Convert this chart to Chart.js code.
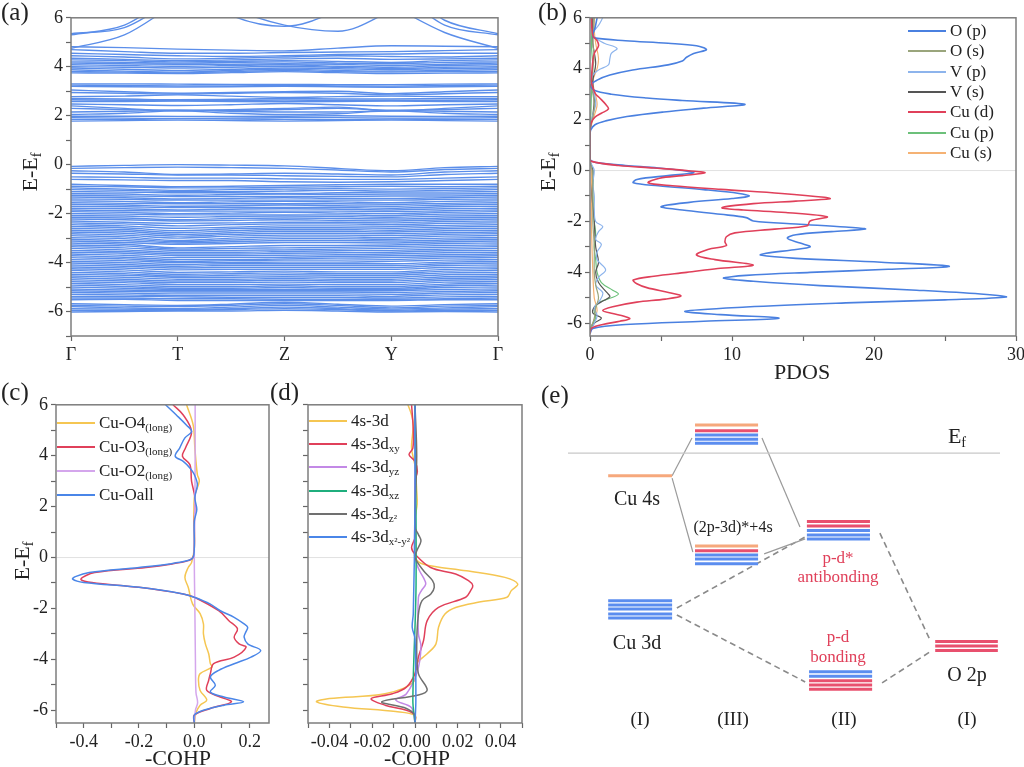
<!DOCTYPE html>
<html>
<head>
<meta charset="utf-8">
<script src="https://cdn.jsdelivr.net/npm/chart.js"></script>
<style>
  body { margin: 0; width: 1024px; height: 767px; overflow: hidden; background: #fff; position: relative;
         font-family: 'Liberation Serif', 'Times New Roman', serif; color: #222; }
  .box { position: absolute; }
  .lbl { position: absolute; white-space: nowrap; transform: translate(-50%, -50%); }
  .panel { position: absolute; font-size: 25px; white-space: nowrap; }
  .ytitle { position: absolute; white-space: nowrap; font-size: 22px; transform: translate(-50%, -50%) rotate(-90deg); }
  .xtitle { position: absolute; white-space: nowrap; font-size: 22px; transform: translate(-50%, -50%); }
  .legrow { position: absolute; display: flex; align-items: center; height: 22px; white-space: nowrap; font-size: 17px; }
  .legrow .sw { display: inline-block; width: 38px; height: 2px; margin-right: 4px; }
  sub { font-size: 0.65em; vertical-align: -0.3em; line-height: 0; }
  .red { color: #e0405a; }
</style>
</head>
<body>

<div class="box" style="left:21px; top:4px;"><canvas id="chartA" width="491" height="362"></canvas></div>
<div class="box" style="left:540px; top:4px;"><canvas id="chartB" width="488" height="362"></canvas></div>
<div class="box" style="left:6px; top:391px;"><canvas id="chartC" width="277" height="362"></canvas></div>
<div class="box" style="left:288px; top:391px;"><canvas id="chartD" width="248" height="362"></canvas></div>
<div class="box" style="left:568px; top:400px;"><canvas id="chartE" width="432" height="320"></canvas></div>

<!-- panel letters and axis titles -->
<div class="panel" style="left:1px; top:-2px;">(a)</div>
<div class="panel" style="left:538px; top:-2px;">(b)</div>
<div class="panel" style="left:1px; top:378px;">(c)</div>
<div class="panel" style="left:270px; top:378px;">(d)</div>
<div class="panel" style="left:541px; top:381px;">(e)</div>

<div class="ytitle" style="left:30px; top:172px;">E-E<sub>f</sub></div>
<div class="ytitle" style="left:548px; top:172px;">E-E<sub>f</sub></div>
<div class="ytitle" style="left:22px; top:561px;">E-E<sub>f</sub></div>
<div class="xtitle" style="left:802px; top:372px;">PDOS</div>
<div class="xtitle" style="left:178px; top:758px;">-COHP</div>
<div class="xtitle" style="left:417px; top:758px;">-COHP</div>

<!-- panel (e) texts -->
<div class="lbl" style="left:957px; top:436px; font-size:22px;">E<sub>f</sub></div>
<div class="lbl" style="left:637px; top:498px; font-size:20px;">Cu 4s</div>
<div class="lbl" style="left:733px; top:527px; font-size:16px;">(2p-3d)*+4s</div>
<div class="lbl" style="left:637px; top:642px; font-size:20px;">Cu 3d</div>
<div class="lbl red" style="left:838px; top:558px; font-size:17px;">p-d*</div>
<div class="lbl red" style="left:838px; top:577px; font-size:17px;">antibonding</div>
<div class="lbl red" style="left:838px; top:637px; font-size:17px;">p-d</div>
<div class="lbl red" style="left:838px; top:657px; font-size:17px;">bonding</div>
<div class="lbl" style="left:967px; top:674px; font-size:20px;">O 2p</div>
<div class="lbl" style="left:640px; top:719px; font-size:19px;">(I)</div>
<div class="lbl" style="left:733px; top:719px; font-size:19px;">(III)</div>
<div class="lbl" style="left:844px; top:719px; font-size:19px;">(II)</div>
<div class="lbl" style="left:967px; top:719px; font-size:19px;">(I)</div>

<script>
// ---------- band structure (a): energies at k = 0, 0.5, ... 4 ----------
const kLabels = ['Γ', 'T', 'Z', 'Y', 'Γ'];
const kPath = [0, 0.5, 1, 1.5, 2, 2.5, 3, 3.5, 4];

const upperBands = [
  [5.35, 5.6, 6.8, 7.5, 7.5, 7.5, 7.5, 5.9, 5.35],
  [4.75, 5.3, 6.6, 7.5, 7.5, 7.5, 6.5, 5.4, 4.75],
  [7.5, 7.5, 7.5, 6.1, 5.65, 6.3, 7.5, 7.5, 7.5],
  [7.5, 7.5, 7.5, 6.4, 5.7, 5.45, 6.3, 7.5, 7.5],
  [5.3, 5.7, 7.0, 7.5, 7.5, 7.5, 7.2, 5.7, 5.3]
];

const conductionBands = [
  [4.82, 4.78, 4.72, 4.68, 4.65, 4.76, 4.86, 4.84, 4.82],
  [4.70, 4.62, 4.55, 4.55, 4.58, 4.60, 4.62, 4.66, 4.70],
  [4.55, 4.50, 4.45, 4.42, 4.45, 4.50, 4.52, 4.55, 4.55],
  [4.45, 4.40, 4.32, 4.35, 4.40, 4.45, 4.42, 4.40, 4.45],
  [4.35, 4.30, 4.25, 4.28, 4.32, 4.35, 4.30, 4.32, 4.35],
  [4.28, 4.25, 4.20, 4.22, 4.25, 4.22, 4.18, 4.25, 4.28],
  [4.20, 4.18, 4.15, 4.18, 4.20, 4.15, 4.12, 4.18, 4.20],
  [4.15, 4.12, 4.10, 4.10, 4.12, 4.10, 4.05, 4.10, 4.15],
  [4.08, 4.05, 4.02, 4.05, 4.08, 4.02, 3.98, 4.05, 4.08],
  [4.00, 3.98, 3.95, 3.98, 4.02, 3.98, 3.92, 3.98, 4.00],
  [3.95, 3.90, 3.85, 3.90, 3.95, 3.92, 3.88, 3.92, 3.95],
  [3.88, 3.82, 3.78, 3.85, 3.90, 3.85, 3.82, 3.85, 3.88],
  [3.80, 3.78, 3.75, 3.80, 3.85, 3.80, 3.78, 3.80, 3.80],
  [3.75, 3.74, 3.72, 3.76, 3.80, 3.76, 3.72, 3.74, 3.75],
  [3.30, 3.30, 3.29, 3.28, 3.28, 3.27, 3.27, 3.29, 3.30],
  [3.25, 3.24, 3.22, 3.22, 3.23, 3.22, 3.21, 3.23, 3.25],
  [3.20, 3.18, 3.17, 3.18, 3.20, 3.18, 3.16, 3.18, 3.20],
  [3.05, 2.98, 2.92, 2.95, 2.98, 3.00, 2.90, 2.98, 3.05],
  [2.95, 2.92, 2.88, 2.92, 2.95, 2.92, 2.85, 2.90, 2.95],
  [2.78, 2.80, 2.85, 2.80, 2.75, 2.78, 2.80, 2.78, 2.78],
  [2.70, 2.68, 2.65, 2.67, 2.70, 2.68, 2.68, 2.70, 2.70],
  [2.65, 2.63, 2.62, 2.62, 2.64, 2.62, 2.62, 2.63, 2.65],
  [2.58, 2.58, 2.60, 2.58, 2.57, 2.58, 2.60, 2.58, 2.58],
  [2.48, 2.45, 2.42, 2.45, 2.50, 2.45, 2.40, 2.45, 2.48],
  [2.40, 2.30, 2.20, 2.25, 2.30, 2.35, 2.20, 2.30, 2.40],
  [2.30, 2.25, 2.22, 2.22, 2.25, 2.30, 2.22, 2.25, 2.30],
  [2.15, 2.18, 2.22, 2.18, 2.15, 2.15, 2.20, 2.18, 2.15],
  [2.05, 2.10, 2.20, 2.10, 2.05, 2.08, 2.20, 2.10, 2.05],
  [1.98, 1.98, 1.97, 1.97, 1.98, 2.00, 1.98, 1.97, 1.98],
  [1.92, 1.90, 1.88, 1.90, 1.92, 1.92, 1.90, 1.90, 1.92],
  [1.85, 1.85, 1.88, 1.86, 1.85, 1.84, 1.86, 1.85, 1.85],
  [1.78, 1.80, 1.82, 1.80, 1.78, 1.80, 1.82, 1.80, 1.78]
];

const valenceBands = [
  [-0.07, -0.03, 0.0, -0.02, -0.05, -0.15, -0.25, -0.12, -0.07],
  [-0.15, -0.12, -0.10, -0.12, -0.15, -0.22, -0.30, -0.20, -0.15],
  [-0.25, -0.30, -0.40, -0.38, -0.35, -0.38, -0.42, -0.30, -0.25],
  [-0.35, -0.38, -0.42, -0.42, -0.45, -0.48, -0.50, -0.40, -0.35],
  [-0.50, -0.52, -0.55, -0.55, -0.58, -0.60, -0.60, -0.55, -0.50],
  [-0.60, -0.62, -0.65, -0.65, -0.70, -0.72, -0.70, -0.65, -0.60],
  [-0.80, -0.85, -0.90, -0.88, -0.85, -0.82, -0.80, -0.80, -0.80],
  [-0.88, -0.90, -0.95, -0.95, -0.92, -0.90, -0.88, -0.90, -0.88],
  [-0.95, -1.00, -1.05, -1.02, -1.00, -0.98, -1.00, -0.98, -0.95],
  [-1.02, -1.05, -1.10, -1.10, -1.08, -1.05, -1.08, -1.05, -1.02],
  [-1.10, -1.12, -1.15, -1.15, -1.18, -1.15, -1.12, -1.12, -1.10],
  [-1.18, -1.20, -1.25, -1.22, -1.20, -1.22, -1.20, -1.20, -1.18],
  [-1.25, -1.28, -1.30, -1.30, -1.30, -1.30, -1.28, -1.28, -1.25],
  [-1.32, -1.35, -1.40, -1.38, -1.35, -1.38, -1.38, -1.35, -1.32],
  [-1.40, -1.42, -1.45, -1.45, -1.45, -1.45, -1.45, -1.42, -1.40],
  [-1.48, -1.50, -1.55, -1.52, -1.50, -1.52, -1.55, -1.50, -1.48],
  [-1.55, -1.58, -1.60, -1.60, -1.60, -1.60, -1.62, -1.58, -1.55],
  [-1.62, -1.65, -1.70, -1.68, -1.65, -1.68, -1.70, -1.65, -1.62],
  [-1.70, -1.72, -1.75, -1.75, -1.75, -1.75, -1.78, -1.72, -1.70],
  [-1.78, -1.80, -1.85, -1.82, -1.80, -1.82, -1.85, -1.80, -1.78],
  [-1.85, -1.88, -1.90, -1.90, -1.90, -1.90, -1.92, -1.88, -1.85],
  [-1.92, -1.95, -2.00, -1.98, -1.95, -1.98, -2.00, -1.95, -1.92],
  [-2.00, -2.02, -2.05, -2.05, -2.05, -2.05, -2.08, -2.02, -2.00],
  [-2.08, -2.10, -2.15, -2.12, -2.10, -2.12, -2.15, -2.10, -2.08],
  [-2.15, -2.18, -2.25, -2.20, -2.18, -2.20, -2.22, -2.18, -2.15],
  [-2.22, -2.25, -2.30, -2.28, -2.25, -2.28, -2.30, -2.25, -2.22],
  [-2.30, -2.35, -2.40, -2.38, -2.35, -2.35, -2.38, -2.32, -2.30],
  [-2.38, -2.42, -2.50, -2.45, -2.42, -2.42, -2.45, -2.40, -2.38],
  [-2.45, -2.50, -2.60, -2.55, -2.50, -2.50, -2.52, -2.48, -2.45],
  [-2.52, -2.58, -2.70, -2.62, -2.58, -2.58, -2.60, -2.55, -2.52],
  [-2.60, -2.65, -2.78, -2.70, -2.65, -2.65, -2.68, -2.62, -2.60],
  [-2.68, -2.72, -2.85, -2.78, -2.72, -2.72, -2.75, -2.70, -2.68],
  [-2.75, -2.80, -2.92, -2.85, -2.80, -2.80, -2.82, -2.78, -2.75],
  [-2.82, -2.88, -3.00, -2.92, -2.88, -2.88, -2.90, -2.85, -2.82],
  [-2.90, -2.95, -3.10, -3.00, -2.95, -2.95, -2.98, -2.92, -2.90],
  [-2.98, -3.02, -3.15, -3.08, -3.02, -3.02, -3.05, -3.00, -2.98],
  [-3.05, -3.10, -3.20, -3.15, -3.10, -3.10, -3.12, -3.08, -3.05],
  [-3.12, -3.18, -3.25, -3.22, -3.18, -3.18, -3.20, -3.15, -3.12],
  [-3.20, -3.25, -3.40, -3.35, -3.30, -3.30, -3.28, -3.22, -3.20],
  [-3.28, -3.32, -3.45, -3.42, -3.40, -3.38, -3.35, -3.30, -3.28],
  [-3.35, -3.40, -3.50, -3.50, -3.48, -3.45, -3.42, -3.38, -3.35],
  [-3.42, -3.48, -3.58, -3.58, -3.55, -3.52, -3.50, -3.45, -3.42],
  [-3.50, -3.55, -3.65, -3.65, -3.62, -3.60, -3.58, -3.52, -3.50],
  [-3.58, -3.62, -3.72, -3.72, -3.70, -3.68, -3.65, -3.60, -3.58],
  [-3.65, -3.70, -3.80, -3.80, -3.78, -3.75, -3.72, -3.68, -3.65],
  [-3.72, -3.78, -3.88, -3.88, -3.85, -3.82, -3.80, -3.75, -3.72],
  [-3.80, -3.85, -3.95, -3.92, -3.90, -3.90, -3.88, -3.82, -3.80],
  [-3.88, -3.92, -4.00, -4.00, -3.98, -3.98, -3.95, -3.90, -3.88],
  [-3.95, -4.00, -4.08, -4.05, -4.05, -4.05, -4.05, -3.98, -3.95],
  [-4.02, -4.08, -4.15, -4.12, -4.12, -4.12, -4.12, -4.05, -4.02],
  [-4.10, -4.15, -4.22, -4.20, -4.20, -4.20, -4.20, -4.12, -4.10],
  [-4.18, -4.22, -4.30, -4.28, -4.28, -4.28, -4.28, -4.20, -4.18],
  [-4.25, -4.30, -4.40, -4.38, -4.35, -4.38, -4.38, -4.28, -4.25],
  [-4.32, -4.38, -4.48, -4.45, -4.42, -4.45, -4.45, -4.35, -4.32],
  [-4.40, -4.45, -4.55, -4.52, -4.50, -4.52, -4.52, -4.42, -4.40],
  [-4.48, -4.52, -4.60, -4.60, -4.58, -4.60, -4.60, -4.50, -4.48],
  [-4.55, -4.60, -4.68, -4.68, -4.65, -4.68, -4.68, -4.58, -4.55],
  [-4.62, -4.68, -4.75, -4.75, -4.72, -4.75, -4.75, -4.65, -4.62],
  [-4.70, -4.75, -4.82, -4.82, -4.80, -4.82, -4.82, -4.72, -4.70],
  [-4.78, -4.82, -4.90, -4.90, -4.88, -4.90, -4.90, -4.80, -4.78],
  [-4.85, -4.90, -4.98, -4.98, -4.95, -4.98, -4.98, -4.88, -4.85],
  [-4.92, -4.98, -5.05, -5.05, -5.02, -5.05, -5.05, -4.95, -4.92],
  [-5.00, -5.05, -5.10, -5.10, -5.10, -5.10, -5.10, -5.02, -5.00],
  [-5.08, -5.12, -5.15, -5.15, -5.15, -5.15, -5.15, -5.10, -5.08],
  [-5.15, -5.18, -5.20, -5.20, -5.20, -5.20, -5.22, -5.18, -5.15],
  [-5.22, -5.25, -5.28, -5.28, -5.28, -5.28, -5.30, -5.25, -5.22],
  [-5.30, -5.32, -5.35, -5.35, -5.35, -5.35, -5.38, -5.32, -5.30],
  [-5.38, -5.38, -5.40, -5.42, -5.42, -5.42, -5.45, -5.40, -5.38],
  [-5.45, -5.45, -5.48, -5.48, -5.50, -5.50, -5.50, -5.48, -5.45],
  [-5.52, -5.50, -5.55, -5.55, -5.55, -5.55, -5.55, -5.52, -5.52],
  [-5.68, -5.72, -5.75, -5.70, -5.62, -5.70, -5.78, -5.72, -5.68],
  [-5.75, -5.78, -5.80, -5.75, -5.68, -5.75, -5.85, -5.78, -5.75],
  [-5.80, -5.85, -5.88, -5.82, -5.75, -5.82, -5.90, -5.85, -5.80],
  [-5.88, -5.90, -5.92, -5.88, -5.82, -5.88, -5.95, -5.90, -5.88],
  [-5.95, -5.95, -5.95, -5.92, -5.88, -5.92, -5.98, -5.95, -5.95],
  [-6.02, -6.00, -5.98, -5.98, -5.95, -5.98, -6.02, -6.00, -6.02]
];

// ---------- PDOS (b): [energy, dos] ----------
const pdosOp = [[6,0.5],[5.6,0.35],[5.3,0.2],[5.2,0.4],[5.1,2.5],[5.0,5.5],[4.9,7.5],[4.75,8.2],[4.6,7.3],[4.45,6.8],[4.3,6.5],[4.15,5.5],[3.95,3.0],[3.75,1.4],[3.55,0.5],[3.35,0.05],[3.15,0.3],[3.0,1.5],[2.85,4.0],[2.75,6.5],[2.6,10.9],[2.45,8.0],[2.3,5.2],[2.12,2.6],[1.95,1.1],[1.8,0.35],[1.6,0.05],[1.4,0],[0.6,0],[0.4,0.05],[0.3,0.6],[0.2,2.5],[0.1,4.8],[0,6.5],[-0.09,7.3],[-0.2,5.5],[-0.35,3.3],[-0.48,3.05],[-0.6,4.8],[-0.75,8.0],[-0.9,10.5],[-1.0,11.2],[-1.1,10.0],[-1.25,7.0],[-1.42,5.0],[-1.55,6.5],[-1.72,9.2],[-1.85,11.0],[-1.98,11.5],[-2.1,14.5],[-2.22,18.0],[-2.3,19.4],[-2.4,17.0],[-2.52,14.5],[-2.66,13.9],[-2.85,14.8],[-3.0,15.5],[-3.12,14.2],[-3.25,12.4],[-3.32,12.0],[-3.45,14.5],[-3.6,20.5],[-3.76,25.3],[-3.88,21.0],[-4.0,15.5],[-4.12,11.0],[-4.23,9.4],[-4.35,11.5],[-4.52,16.2],[-4.7,23.0],[-4.85,27.5],[-4.97,29.3],[-5.08,25.0],[-5.2,18.0],[-5.36,11.0],[-5.53,6.7],[-5.66,9.2],[-5.8,13.3],[-5.92,8.0],[-6.05,2.5],[-6.2,0.2],[-6.4,0]];
const pdosOs = [[6,0.3],[5,0.2],[4.5,0.3],[3.5,0.1],[2.5,0.3],[1.5,0],[0.4,0],[0,0.15],[-1,0.2],[-2,0.2],[-3,0.3],[-4,0.3],[-4.5,0.4],[-5,0.6],[-5.4,0.4],[-5.8,0.3],[-6.3,0]];
const pdosVp = [[6,0.9],[5.7,0.6],[5.4,0.2],[5.2,0.4],[5.0,1.0],[4.8,1.9],[4.6,1.5],[4.4,1.4],[4.15,1.3],[3.95,0.6],[3.75,0.2],[3.5,0.1],[3.0,0.3],[2.6,0.4],[2.2,0.2],[1.8,0.05],[1.4,0],[0.4,0],[0.2,0.15],[0,0.3],[-0.5,0.2],[-1.0,0.3],[-1.5,0.3],[-2.0,0.4],[-2.2,0.9],[-2.4,0.6],[-2.7,0.4],[-2.9,0.8],[-3.2,0.5],[-3.5,0.5],[-3.9,1.1],[-4.2,0.6],[-4.5,0.4],[-4.8,0.9],[-5.1,0.7],[-5.4,0.3],[-5.7,0.5],[-6.0,0.3],[-6.3,0]];
const pdosVs = [[6,0.2],[5,0.2],[4.2,0.4],[3.5,0.2],[2.8,0.3],[2.2,0.2],[1.5,0],[0.4,0],[0,0.2],[-1,0.15],[-2,0.3],[-3,0.4],[-3.6,0.6],[-4,0.4],[-4.4,0.6],[-4.8,1.2],[-4.95,1.4],[-5.1,1.0],[-5.3,0.4],[-5.6,0.2],[-5.8,0.8],[-6.0,0.3],[-6.3,0]];
const pdosCud = [[6,0.1],[5.3,0.2],[5.1,0.5],[4.9,0.6],[4.6,0.3],[4.3,0.2],[4.0,0.15],[3.5,0.1],[3.25,0.2],[3.0,0.4],[2.84,0.7],[2.6,1.1],[2.42,1.3],[2.25,0.8],[2.1,0.35],[1.9,0.1],[1.6,0],[0.5,0],[0.36,0.1],[0.2,2.0],[0.1,4.5],[0,6.8],[-0.09,8.1],[-0.2,6.5],[-0.3,4.9],[-0.48,4.1],[-0.6,5.8],[-0.74,9.2],[-0.9,13.5],[-1.05,16.5],[-1.11,16.9],[-1.2,14.5],[-1.3,11.5],[-1.46,9.3],[-1.55,10.8],[-1.65,13.8],[-1.82,16.7],[-1.98,15.5],[-2.17,15.3],[-2.3,13.0],[-2.45,10.2],[-2.6,9.6],[-2.8,9.5],[-2.95,9.6],[-3.1,8.3],[-3.32,7.5],[-3.5,8.8],[-3.71,11.5],[-3.85,9.0],[-4.0,6.8],[-4.15,4.5],[-4.3,3.05],[-4.45,3.3],[-4.6,4.0],[-4.8,5.6],[-4.93,6.4],[-5.05,5.3],[-5.17,3.3],[-5.35,1.6],[-5.5,0.9],[-5.62,1.6],[-5.72,2.4],[-5.82,2.8],[-5.92,2.1],[-6.05,0.9],[-6.2,0.1],[-6.4,0]];
const pdosCup = [[6,0.2],[5,0.1],[4,0.2],[3,0.1],[2,0.05],[1.4,0],[0.4,0],[0,0.2],[-1,0.2],[-2,0.3],[-2.5,0.4],[-3,0.3],[-3.5,0.4],[-4,0.5],[-4.4,0.8],[-4.7,1.6],[-4.85,2.0],[-5.0,1.5],[-5.2,0.6],[-5.5,0.3],[-5.8,0.4],[-6.1,0.1],[-6.3,0]];
const pdosCus = [[6,0.3],[5.5,0.3],[5,0.4],[4.4,0.6],[4.0,0.5],[3.5,0.2],[2.6,0.5],[2,0.2],[1.5,0],[0.4,0],[0,0.1],[-2,0.1],[-4,0.2],[-5,0.3],[-5.5,0.5],[-6,0.2],[-6.3,0]];

const pdosNames = ['O (p)', 'O (s)', 'V (p)', 'V (s)', 'Cu (d)', 'Cu (p)', 'Cu (s)'];
const pdosColors = ['#4a80e0', '#9aa57c', '#8db4ec', '#555555', '#e0405a', '#6cc07a', '#f5b274'];
const pdosSeries = [pdosOp, pdosOs, pdosVp, pdosVs, pdosCud, pdosCup, pdosCus];

// ---------- COHP (c): [energy, -COHP] ----------
const cohpO4 = [[6,-0.028],[5.2,-0.004],[4.3,0.002],[3.26,0.011],[3.0,0.018],[2.35,0],[0.4,0],[-0.2,-0.01],[-0.39,-0.022],[-0.78,-0.034],[-1.17,-0.022],[-1.83,-0.006],[-2.2,0.021],[-2.61,0.033],[-3.0,0.033],[-3.39,0.04],[-3.78,0.052],[-4.17,0.058],[-4.3,0.064],[-4.56,0.021],[-4.82,0.015],[-5.22,0.021],[-5.6,0.045],[-5.8,0.021],[-6.1,0.006],[-6.5,0]];
const cohpO3 = [[6,-0.077],[5.6,-0.04],[4.95,-0.01],[4.3,-0.032],[3.98,-0.043],[3.65,-0.016],[3.0,-0.01],[2.35,0.002],[1.43,0],[0.4,0],[0,-0.005],[-0.13,-0.025],[-0.25,-0.08],[-0.39,-0.175],[-0.59,-0.36],[-0.85,-0.41],[-0.98,-0.37],[-1.17,-0.2],[-1.43,-0.04],[-1.56,0],[-2.09,0.088],[-2.48,0.125],[-2.8,0.156],[-3.13,0.144],[-3.39,0.162],[-3.52,0.187],[-3.91,0.144],[-4.17,0.07],[-4.56,0.058],[-4.82,0.052],[-5.22,0.045],[-5.48,0.094],[-5.67,0.134],[-5.93,0.058],[-6.19,0],[-6.5,0]];
const cohpO2 = [[6,0.003],[4,0.003],[2,0.002],[0,0],[-2,0.002],[-4,0.004],[-5.3,0.006],[-5.7,0.012],[-6.0,0.004],[-6.5,0]];
const cohpAll = [[6,-0.104],[5.6,-0.065],[5.2,-0.028],[4.95,-0.01],[4.7,-0.034],[4.3,-0.053],[3.98,-0.069],[3.78,-0.04],[3.52,-0.016],[3.26,0],[2.87,0.011],[2.35,0.002],[1.89,0.009],[1.43,0],[0.4,0],[0,-0.005],[-0.13,-0.028],[-0.25,-0.09],[-0.39,-0.2],[-0.59,-0.38],[-0.75,-0.43],[-0.85,-0.44],[-0.98,-0.4],[-1.17,-0.2],[-1.43,-0.04],[-1.56,0],[-1.83,0.058],[-2.09,0.094],[-2.35,0.144],[-2.61,0.18],[-2.74,0.193],[-2.95,0.185],[-3.13,0.18],[-3.39,0.193],[-3.65,0.24],[-3.91,0.205],[-4.17,0.144],[-4.43,0.088],[-4.69,0.058],[-5.02,0.076],[-5.28,0.058],[-5.48,0.107],[-5.67,0.178],[-5.8,0.107],[-6.0,0.033],[-6.19,0],[-6.5,0]];

const cohpNames = ['Cu-O4<sub>(long)</sub>', 'Cu-O3<sub>(long)</sub>', 'Cu-O2<sub>(long)</sub>', 'Cu-Oall'];
const cohpColors = ['#f5c652', '#e0405a', '#d4a6ec', '#4a86e8'];
const cohpSeries = [cohpO4, cohpO3, cohpO2, cohpAll];

// ---------- orbital COHP (d): [energy, -COHP] ----------
const orb3d = [[6,-0.0033],[5.6,-0.0016],[5.2,-0.0008],[4.3,-0.0016],[3.6,0],[2.6,0.0008],[2.1,0.001],[1.5,0],[0.4,0],[0,0],[-0.26,0.004],[-0.52,0.024],[-0.78,0.042],[-1.04,0.048],[-1.3,0.045],[-1.56,0.043],[-1.75,0.03],[-1.96,0.019],[-2.22,0.014],[-2.74,0.011],[-3.39,0.0098],[-3.78,0.0057],[-4.17,0.0008],[-4.9,-0.0008],[-5.35,-0.014],[-5.54,-0.04],[-5.67,-0.046],[-5.87,-0.0336],[-6.05,-0.009],[-6.2,0],[-6.5,0]];
const orbXY = [[6,-0.0016],[5,-0.0008],[4.3,-0.001],[4.04,-0.0028],[3.78,0],[3.39,0.0011],[3.0,0],[0.8,0],[0.39,-0.0016],[0.13,0],[-0.39,0.0073],[-0.65,0.019],[-0.91,0.025],[-1.1,0.027],[-1.3,0.026],[-1.56,0.0237],[-1.96,0.011],[-2.48,0.0057],[-3.26,0.004],[-3.91,0.0016],[-4.56,0],[-5.09,-0.004],[-5.35,-0.0106],[-5.54,-0.0205],[-5.8,-0.014],[-6.0,-0.004],[-6.2,0],[-6.5,0]];
const orbYZ = [[6,0],[2,0],[0,0],[-0.5,0.002],[-0.8,0.004],[-1.04,0.005],[-1.3,0.003],[-1.56,0.0016],[-3,0.0016],[-3.5,0.0028],[-4.5,0.001],[-5.35,-0.004],[-5.6,-0.009],[-5.9,-0.0016],[-6.5,0]];
const orbXZ = [[6,0],[-1,0.0005],[-5.6,-0.001],[-6.5,0]];
const orbZ2 = [[6,0],[4,0.0008],[1.2,0],[0.9,0.0016],[0.65,0.0028],[0.26,0.0008],[0,0],[-0.52,0.004],[-0.91,0.0082],[-1.17,0.009],[-1.43,0.0074],[-1.69,0.0033],[-2.22,0.0016],[-3.5,0.0008],[-4.56,0.0016],[-5.2,0.0057],[-5.4,0.0016],[-5.67,-0.0155],[-5.93,-0.004],[-6.2,0],[-6.5,0]];
const orbX2Y2 = [[6,0],[2,0],[-2.2,-0.0008],[-2.74,-0.0013],[-3.2,0],[-5.6,0.0004],[-6.5,0]];

const orbNames = ['4s-3d', '4s-3d<sub>xy</sub>', '4s-3d<sub>yz</sub>', '4s-3d<sub>xz</sub>', '4s-3d<sub>z²</sub>', '4s-3d<sub>x²-y²</sub>'];
const orbColors = ['#f5c652', '#e0405a', '#c389e6', '#1fae7d', '#707070', '#4a86e8'];
const orbSeries = [orb3d, orbXY, orbYZ, orbXZ, orbZ2, orbX2Y2];

// ---------- ticks ----------
const bandTicks = [-7, -6, -5, -4, -3, -2, -1, 0, 1, 2, 3, 4, 5, 6];
const energyTicks = [-6, -5, -4, -3, -2, -1, 0, 1, 2, 3, 4, 5, 6];
const energyLabels = [-6, -4, -2, 0, 2, 4, 6];
const kTicks = [0, 1, 2, 3, 4];
const pdosTicks = [0, 5, 10, 15, 20, 25, 30];
const pdosLabels = [0, 10, 20, 30];
const cohpTicks = [-0.5, -0.4, -0.3, -0.2, -0.1, 0, 0.1, 0.2];
const cohpLabels = [-0.4, -0.2, 0, 0.2];
const orbTicks = [-0.05, -0.04, -0.03, -0.02, -0.01, 0, 0.01, 0.02, 0.03, 0.04, 0.05];
const orbLabels = [-0.04, -0.02, 0, 0.02, 0.04];

// ---------- level diagram (e), arbitrary energy units ----------
const fermiLevel = 83.4;
const levelSpans = [[9.3, 24.1], [29.4, 44.0], [29.4, 44.0], [9.3, 24.1], [55.3, 69.9], [55.8, 70.4], [85.0, 99.5]];
const levelEnergies = [
  [76.3],
  [92.2, 90.4, 89.1, 87.7, 86.5],
  [54.4, 52.9, 51.6, 50.3, 48.8],
  [37.3, 35.9, 34.7, 33.1, 31.9],
  [62.0, 60.6, 59.2, 57.8, 56.6],
  [15.1, 13.7, 12.3, 10.9, 9.6],
  [24.5, 23.1, 21.7]
];
const levelKinds = [
  ['s'],
  ['s', 'd', 'p', 'p', 'p'],
  ['s', 'd', 'p', 'p', 'p'],
  ['p', 'p', 'p', 'p', 'p'],
  ['d', 'd', 'p', 'p', 'p'],
  ['p', 'p', 'd', 'd', 'd'],
  ['d', 'd', 'd']
];
const kindColors = { s: '#f6a87c', d: '#e8506e', p: '#5b8def' };
const solidLinks = [
  [[24.1, 76.3], [28.7, 88.1]],
  [[24.1, 75.6], [28.9, 52.5]],
  [[44.9, 88.1], [53.7, 60.3]],
  [[45.4, 51.9], [54.9, 56.6]]
];
const dashedLinks = [
  [[25.2, 35.0], [54.9, 57.2]],
  [[25.2, 32.8], [54.9, 11.9]],
  [[72.2, 58.4], [83.8, 25.0]],
  [[72.7, 11.6], [83.8, 21.3]]
];

// ---------- helpers ----------
Chart.defaults.font.family = "'Liberation Serif', 'Times New Roman', serif";
Chart.defaults.color = '#222';

// Draw a grey box around the plot area
const framePlugin = {
  id: 'frame',
  afterDraw(chart, args, opts) {
    if (!opts.show) return;
    const { ctx, chartArea: a } = chart;
    ctx.save();
    ctx.strokeStyle = '#7d7d7d';
    ctx.lineWidth = 1.5;
    ctx.strokeRect(a.left, a.top, a.right - a.left, a.bottom - a.top);
    ctx.restore();
  }
};

function lineSet(points, color, width, extra) {
  return Object.assign({
    data: points, showLine: true, borderColor: color, borderWidth: width,
    pointRadius: 0, fill: false, tension: 0.35
  }, extra || {});
}

function energyPairs(pairs) {
  return pairs.map(p => ({ x: p[1], y: p[0] }));
}

function axis(min, max, ticks, labels, fmt, fitKey, fitSize) {
  return {
    type: 'linear', min: min, max: max,
    afterBuildTicks: s => { s.ticks = ticks.map(v => ({ value: v })); },
    afterFit: s => { s[fitKey] = fitSize; },
    ticks: {
      autoSkip: false, maxRotation: 0, padding: 3, color: '#222', font: { size: 18 },
      callback: v => labels.includes(v) ? fmt(v) : ''
    },
    grid: { drawOnChartArea: false, tickLength: 5, tickColor: '#666', tickWidth: 1.2 },
    border: { display: false }
  };
}

function makeChart(id, datasets, xAxis, yAxis, padRight) {
  return new Chart(document.getElementById(id), {
    type: 'scatter',
    data: { datasets: datasets },
    options: {
      responsive: false, animation: false, events: [],
      layout: { padding: { top: 12, right: padRight, bottom: 0, left: 0 } },
      plugins: { legend: { display: false }, tooltip: { enabled: false }, frame: { show: true } },
      scales: { x: xAxis, y: yAxis }
    },
    plugins: [framePlugin]
  });
}

function zeroLine(xMin, xMax) {
  return lineSet([{ x: xMin, y: 0 }, { x: xMax, y: 0 }], '#e2e2e2', 1, { order: 20, tension: 0 });
}

function addLegend(names, colors, left, top, step) {
  names.forEach((name, i) => {
    const row = document.createElement('div');
    row.className = 'legrow';
    row.style.left = left + 'px';
    row.style.top = (top + i * step - 11) + 'px';
    row.innerHTML = '<span class="sw" style="background:' + colors[i] + '"></span><span>' + name + '</span>';
    document.body.appendChild(row);
  });
}

// ---------- (a) band structure ----------
const bandColor = '#5b8eea';
const bandSets = upperBands.concat(conductionBands, valenceBands).map(b =>
  lineSet(kPath.map((k, i) => ({ x: k, y: b[i] })), bandColor, 1.4, { cubicInterpolationMode: 'monotone' })
);
makeChart('chartA', bandSets,
  axis(0, 4, kTicks, kTicks, v => kLabels[v], 'height', 30),
  axis(-7, 6, bandTicks, energyLabels, v => String(v), 'width', 50), 14);

// ---------- (b) PDOS ----------
const pdosSets = pdosSeries.map((s, i) => lineSet(energyPairs(s), pdosColors[i], i === 0 || i === 4 ? 1.6 : 1.2, { order: i === 0 ? 1 : (i === 4 ? 0 : 2) }));
pdosSets.push(zeroLine(0, 30));
makeChart('chartB', pdosSets,
  axis(0, 30, pdosTicks, pdosLabels, v => String(v), 'height', 30),
  axis(-6.5, 6, energyTicks, energyLabels, v => String(v), 'width', 50), 12);
addLegend(pdosNames, pdosColors, 908, 31, 20.3);

// ---------- (c) COHP ----------
const cohpSets = cohpSeries.map((s, i) => lineSet(energyPairs(s), cohpColors[i], 1.5, { order: 4 - i }));
cohpSets.push(zeroLine(-0.5, 0.27));
makeChart('chartC', cohpSets,
  axis(-0.5, 0.27, cohpTicks, cohpLabels, v => v.toFixed(1), 'height', 30),
  axis(-6.5, 6, energyTicks, energyLabels, v => String(v), 'width', 50), 14);
addLegend(cohpNames, cohpColors, 57, 423, 24);

// ---------- (d) orbital COHP ----------
const orbSets = orbSeries.map((s, i) => lineSet(energyPairs(s), orbColors[i], 1.5, { order: i === 5 ? 0 : 6 - i }));
orbSets.push(zeroLine(-0.05, 0.05));
makeChart('chartD', orbSets,
  axis(-0.05, 0.05, orbTicks, orbLabels, v => v.toFixed(2), 'height', 30),
  axis(-6.5, 6, energyTicks, [], v => '', 'width', 20), 14);
addLegend(orbNames, orbColors, 309, 421, 23.2);

// ---------- (e) level diagram ----------
const eSets = [];
eSets.push(lineSet([{ x: 0, y: fermiLevel }, { x: 100, y: fermiLevel }], '#c8c8c8', 1.2, { tension: 0, clip: false }));
solidLinks.forEach(l => eSets.push(lineSet(l.map(p => ({ x: p[0], y: p[1] })), '#9a9a9a', 1.2, { tension: 0, clip: false })));
dashedLinks.forEach(l => eSets.push(lineSet(l.map(p => ({ x: p[0], y: p[1] })), '#8a8a8a', 1.6, { tension: 0, clip: false, borderDash: [6, 4] })));
levelEnergies.forEach((es, i) => {
  es.forEach((e, j) => {
    eSets.push(lineSet([{ x: levelSpans[i][0], y: e }, { x: levelSpans[i][1], y: e }],
      kindColors[levelKinds[i][j]], 3, { tension: 0, clip: false, borderCapStyle: 'butt', order: -1 }));
  });
});
new Chart(document.getElementById('chartE'), {
  type: 'scatter',
  data: { datasets: eSets },
  options: {
    responsive: false, animation: false, events: [],
    layout: { padding: 0 },
    plugins: { legend: { display: false }, tooltip: { enabled: false } },
    scales: {
      x: { type: 'linear', min: 0, max: 100, display: false },
      y: { type: 'linear', min: 0, max: 100, display: false }
    }
  }
});
</script>
</body>
</html>
